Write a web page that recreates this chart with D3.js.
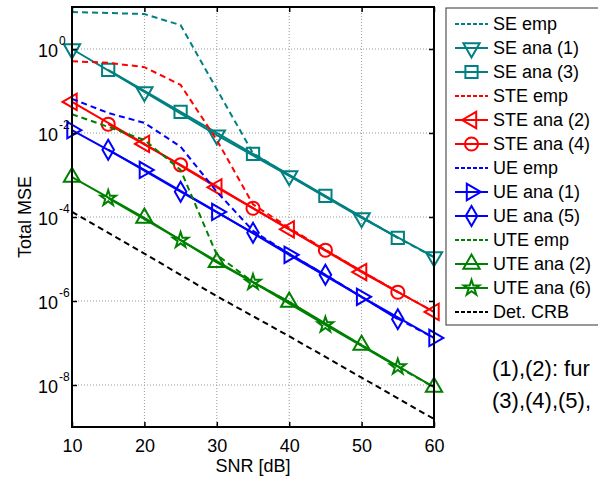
<!DOCTYPE html>
<html>
<head>
<meta charset="utf-8">
<script src="https://cdn.jsdelivr.net/npm/d3@7"></script>
<style>
  html, body { margin: 0; padding: 0; background: #fff; }
  svg { display: block; font-family: "Liberation Sans", Arial, sans-serif; }
</style>
</head>
<body>
<svg id="chart" width="598" height="477"></svg>
<script>
// SNR grids (dB)
const snrAll = [10, 15, 20, 25, 30, 35, 40, 45, 50, 55, 60];
const snrOdd = [10, 20, 30, 40, 50, 60];
const snrEven = [15, 25, 35, 45, 55];

// Total MSE per estimator
const seEmp   = [7.6, 7.2, 6.8, 3.7, 0.11, 0.0033, 0.00098, 0.00031, 0.0001, 3.2e-5, 1.1e-5];
const seAna1  = [1.0, 0.095, 0.0089, 0.00095, 9.5e-5, 1.12e-5];
const seAna3  = [0.32, 0.032, 0.0032, 0.00032, 3.2e-5];
const steEmp  = [0.51, 0.47, 0.37, 0.14, 0.0068, 2.0e-4, 5.5e-5, 1.66e-5, 5.1e-6, 1.66e-6, 5.5e-7];
const steAna2 = [0.055, 0.0055, 0.00051, 5.1e-5, 4.9e-6, 5.5e-7];
const steAna4 = [0.0162, 0.00174, 1.62e-4, 1.62e-5, 1.62e-6];
const ueEmp   = [0.065, 0.030, 0.0174, 0.0047, 4.0e-4, 4.7e-5, 1.32e-5, 4.2e-6, 1.26e-6, 3.8e-7, 1.32e-7];
const ueAna1  = [0.0117, 0.00132, 1.32e-4, 1.26e-5, 1.26e-6, 1.32e-7];
const ueAna5  = [0.004, 4.0e-4, 4.2e-5, 4.2e-6, 3.7e-7];
const uteEmp  = [0.028, 0.014, 0.0068, 0.00132, 1.26e-5, 2.8e-6, 9.5e-7, 2.8e-7, 8.9e-8, 2.7e-8, 8.9e-9];
const uteAna2 = [8.9e-4, 9.5e-5, 8.3e-6, 9.5e-7, 8.9e-8, 8.9e-9];
const uteAna6 = [2.8e-4, 2.8e-5, 2.8e-6, 2.7e-7, 2.7e-8];
const detCrb  = [1.32e-4, 1.35e-5, 1.3e-6, 1.45e-7, 1.5e-8, 1.55e-9];

// Axis ticks
const xTicks = [10, 20, 30, 40, 50, 60];
const yTickExps = [0, -2, -4, -6, -8];

const TEAL = "#008080", RED = "#ff0000", BLUE = "#0000ff", GREEN = "#008000", BLACK = "#000000";

const series = [
  { name: "SE emp",      x: snrAll,  y: seEmp,   color: TEAL,  dash: true,  marker: null },
  { name: "SE ana (1)",  x: snrOdd,  y: seAna1,  color: TEAL,  dash: false, marker: "down" },
  { name: "SE ana (3)",  x: snrEven, y: seAna3,  color: TEAL,  dash: false, marker: "square" },
  { name: "STE emp",     x: snrAll,  y: steEmp,  color: RED,   dash: true,  marker: null },
  { name: "STE ana (2)", x: snrOdd,  y: steAna2, color: RED,   dash: false, marker: "left" },
  { name: "STE ana (4)", x: snrEven, y: steAna4, color: RED,   dash: false, marker: "circle" },
  { name: "UE emp",      x: snrAll,  y: ueEmp,   color: BLUE,  dash: true,  marker: null },
  { name: "UE ana (1)",  x: snrOdd,  y: ueAna1,  color: BLUE,  dash: false, marker: "right" },
  { name: "UE ana (5)",  x: snrEven, y: ueAna5,  color: BLUE,  dash: false, marker: "diamond" },
  { name: "UTE emp",     x: snrAll,  y: uteEmp,  color: GREEN, dash: true,  marker: null },
  { name: "UTE ana (2)", x: snrOdd,  y: uteAna2, color: GREEN, dash: false, marker: "up" },
  { name: "UTE ana (6)", x: snrEven, y: uteAna6, color: GREEN, dash: false, marker: "star" },
  { name: "Det. CRB",    x: snrOdd,  y: detCrb,  color: BLACK, dash: true,  marker: null }
];

const svg = d3.select("#chart");
const L = 72, R = 434, T = 7, B = 427;

const x = d3.scaleLinear().domain([10, 60]).range([L, R]);
const y = d3.scaleLog().domain([1e-9, 10]).range([B, T]);

// dotted grid
const grid = svg.append("g").attr("stroke", "#9a9a9a").attr("stroke-width", 1).attr("stroke-dasharray", "1,2");
xTicks.forEach(t => grid.append("line")
  .attr("x1", x(t)).attr("x2", x(t)).attr("y1", T).attr("y2", B));
yTickExps.forEach(e => grid.append("line")
  .attr("x1", L).attr("x2", R).attr("y1", y(Math.pow(10, e))).attr("y2", y(Math.pow(10, e))));

// marker shapes
const markerPath = {
  up:      d3.symbol(d3.symbolTriangle, 115)(),
  down:    d3.symbol(d3.symbolTriangle, 115)(),
  left:    d3.symbol(d3.symbolTriangle, 115)(),
  right:   d3.symbol(d3.symbolTriangle, 115)(),
  square:  d3.symbol(d3.symbolSquare, 150)(),
  circle:  d3.symbol(d3.symbolCircle, 135)(),
  diamond: d3.symbol(d3.symbolDiamond, 115)(),
  star:    d3.symbol(d3.symbolStar, 75)()
};
const markerRot = { up: 0, down: 180, left: -90, right: 90, square: 0, circle: 0, diamond: 0, star: 0 };

function drawMarker(g, type, cx, cy, color) {
  g.append("path")
    .attr("d", markerPath[type])
    .attr("transform", `translate(${cx},${cy}) rotate(${markerRot[type]})`)
    .attr("fill", "none")
    .attr("stroke", color)
    .attr("stroke-width", 2);
}

const line = d3.line().x(d => x(d[0])).y(d => y(d[1]));
const plot = svg.append("g");
series.forEach(s => {
  const pts = s.x.map((v, i) => [v, s.y[i]]);
  plot.append("path")
    .attr("d", line(pts))
    .attr("fill", "none")
    .attr("stroke", s.color)
    .attr("stroke-width", 2)
    .attr("stroke-dasharray", s.dash ? "6,4" : null);
  if (s.marker) pts.forEach(p => drawMarker(plot, s.marker, x(p[0]), y(p[1]), s.color));
});

// frame and inward ticks on all four sides
const axB = svg.append("g").attr("transform", `translate(0,${B})`)
  .call(d3.axisBottom(x).tickValues(xTicks).tickSize(-5).tickPadding(12).tickFormat(d3.format("d")));
const axT = svg.append("g").attr("transform", `translate(0,${T})`)
  .call(d3.axisTop(x).tickValues(xTicks).tickSize(-5).tickFormat(""));
const yVals = yTickExps.map(e => Math.pow(10, e));
const axL = svg.append("g").attr("transform", `translate(${L},0)`)
  .call(d3.axisLeft(y).tickValues(yVals).tickSize(-5).tickFormat(""));
const axR = svg.append("g").attr("transform", `translate(${R},0)`)
  .call(d3.axisRight(y).tickValues(yVals).tickSize(-5).tickFormat(""));
[axB, axT, axL, axR].forEach(a => {
  a.select(".domain").remove();
  a.selectAll(".tick line").attr("stroke", "#000").attr("stroke-width", 1.5);
});
axB.selectAll(".tick text").attr("font-size", 18).attr("fill", "#000")
  .attr("font-family", "Liberation Sans, Arial, sans-serif");

svg.append("rect").attr("x", L).attr("y", T).attr("width", R - L).attr("height", B - T)
  .attr("fill", "none").attr("stroke", "#000").attr("stroke-width", 2);

// power-of-ten labels on the y axis
axL.selectAll(".tick").each(function(d) {
  const g = d3.select(this);
  const e = Math.round(Math.log10(d));
  g.append("text").attr("x", -14).attr("y", 7).attr("text-anchor", "end")
    .attr("font-size", 18).attr("fill", "#000").text("10");
  g.append("text").attr("x", -13).attr("y", -5).attr("text-anchor", "start")
    .attr("font-size", 12).attr("fill", "#000").text(String(e));
});

// axis titles
svg.append("text").attr("x", (L + R) / 2).attr("y", 472).attr("text-anchor", "middle")
  .attr("font-size", 18).text("SNR [dB]");
svg.append("text").attr("transform", `translate(31,${(T + B) / 2}) rotate(-90)`)
  .attr("text-anchor", "middle").attr("font-size", 18).text("Total MSE");

// legend
const leg = svg.append("g");
leg.append("rect").attr("x", 446).attr("y", 8).attr("width", 170).attr("height", 317)
  .attr("fill", "#fff").attr("stroke", "#333").attr("stroke-width", 1);
series.forEach((s, i) => {
  const cy = 24 + i * 24;
  leg.append("line").attr("x1", 455).attr("x2", 488).attr("y1", cy).attr("y2", cy)
    .attr("stroke", s.color).attr("stroke-width", 2)
    .attr("stroke-dasharray", s.dash ? "4,2" : null);
  if (s.marker) drawMarker(leg, s.marker, 471.5, cy, s.color);
  leg.append("text").attr("x", 493).attr("y", cy).attr("dy", "0.35em")
    .attr("font-size", 18).attr("fill", "#000").text(s.name);
});

// footnote
svg.append("text").attr("x", 492).attr("y", 376).attr("font-size", 22).text("(1),(2): fur");
svg.append("text").attr("x", 492).attr("y", 408).attr("font-size", 22).text("(3),(4),(5),");
</script>
</body>
</html>
